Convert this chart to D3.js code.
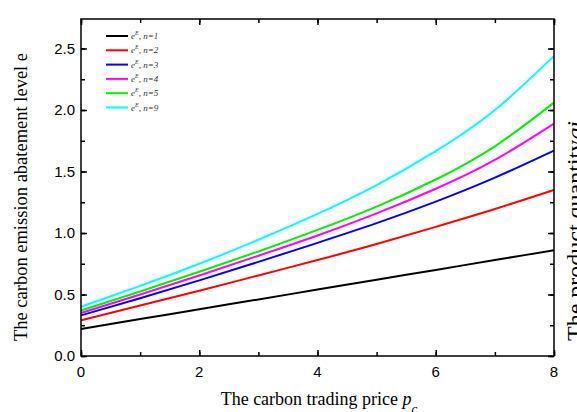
<!DOCTYPE html>
<html>
<head>
<meta charset="utf-8">
<script src="https://cdn.jsdelivr.net/npm/d3@7"></script>
<style>
body { margin: 0; padding: 0; background: #fff; }
svg { display: block; }
</style>
</head>
<body>
<script>
// data
var prices = [0, 1, 2, 3, 4, 5, 6, 7, 8];
var seriesNames = ["n=1", "n=2", "n=3", "n=4", "n=5", "n=9"];
var seriesColors = ["#000000", "#ff0000", "#0000ff", "#ff00ff", "#00ee00", "#00ffff"];
var eN1 = [0.22, 0.30, 0.38, 0.46, 0.54, 0.62, 0.70, 0.78, 0.86];
var eN2 = [0.29, 0.41, 0.53, 0.655, 0.78, 0.91, 1.05, 1.195, 1.35];
var eN3 = [0.33, 0.47, 0.615, 0.765, 0.92, 1.08, 1.255, 1.45, 1.67];
var eN4 = [0.35, 0.50, 0.655, 0.815, 0.98, 1.16, 1.36, 1.595, 1.89];
var eN5 = [0.37, 0.525, 0.685, 0.85, 1.025, 1.215, 1.435, 1.705, 2.06];
var eN9 = [0.40, 0.57, 0.75, 0.945, 1.155, 1.39, 1.665, 2.00, 2.44];
var allSeries = [eN1, eN2, eN3, eN4, eN5, eN9];
var xTicks = [0, 2, 4, 6, 8];
var yTicks = [0.0, 0.5, 1.0, 1.5, 2.0, 2.5];

var width = 577;
var height = 412;
var margin = {left: 81, right: 23, top: 19, bottom: 56};

var svg = d3.select("body")
    .append("svg")
    .attr("width", width)
    .attr("height", height);

var x = d3.scaleLinear().domain([0, 8]).range([margin.left, width - margin.right]);
var y = d3.scaleLinear().domain([0, 2.74]).range([height - margin.bottom, margin.top]);

// curves
var line = d3.line()
    .x(function(d, i) { return x(prices[i]); })
    .y(function(d) { return y(d); })
    .curve(d3.curveNatural);

svg.selectAll("path.curve")
    .data(allSeries)
    .enter()
    .append("path")
    .attr("class", "curve")
    .attr("fill", "none")
    .attr("stroke", function(d, i) { return seriesColors[i]; })
    .attr("stroke-width", 2)
    .attr("d", line);

// frame with inward ticks on all four sides
function styleAxis(g) {
    g.selectAll("path, line").attr("stroke", "#000").attr("stroke-width", 1.5);
    g.select(".domain").remove();
}
var minorX = d3.range(0, 9, 1);
var minorY = d3.range(0, 2.75, 0.25);

svg.append("g")
    .attr("transform", "translate(0," + y(0) + ")")
    .call(d3.axisTop(x).tickValues(minorX).tickSize(4).tickFormat(""))
    .call(styleAxis);
svg.append("g")
    .attr("transform", "translate(0," + y(0) + ")")
    .call(d3.axisTop(x).tickValues(xTicks).tickSize(6).tickFormat(""))
    .call(styleAxis);
svg.append("g")
    .attr("transform", "translate(0," + y(2.74) + ")")
    .call(d3.axisBottom(x).tickValues(minorX).tickSize(4).tickFormat(""))
    .call(styleAxis);
svg.append("g")
    .attr("transform", "translate(0," + y(2.74) + ")")
    .call(d3.axisBottom(x).tickValues(xTicks).tickSize(6).tickFormat(""))
    .call(styleAxis);
svg.append("g")
    .attr("transform", "translate(" + x(0) + ",0)")
    .call(d3.axisRight(y).tickValues(minorY).tickSize(4).tickFormat(""))
    .call(styleAxis);
svg.append("g")
    .attr("transform", "translate(" + x(0) + ",0)")
    .call(d3.axisRight(y).tickValues(yTicks).tickSize(6).tickFormat(""))
    .call(styleAxis);
svg.append("g")
    .attr("transform", "translate(" + x(8) + ",0)")
    .call(d3.axisLeft(y).tickValues(minorY).tickSize(4).tickFormat(""))
    .call(styleAxis);
svg.append("g")
    .attr("transform", "translate(" + x(8) + ",0)")
    .call(d3.axisLeft(y).tickValues(yTicks).tickSize(6).tickFormat(""))
    .call(styleAxis);

svg.append("rect")
    .attr("x", x(0))
    .attr("y", y(2.74))
    .attr("width", x(8) - x(0))
    .attr("height", y(0) - y(2.74))
    .attr("fill", "none")
    .attr("stroke", "#000")
    .attr("stroke-width", 1.5);

// tick labels
svg.selectAll("text.xlab")
    .data(xTicks)
    .enter()
    .append("text")
    .attr("class", "xlab")
    .attr("x", function(d) { return x(d); })
    .attr("y", y(0) + 21)
    .attr("text-anchor", "middle")
    .style("font-family", "Liberation Sans, Arial, sans-serif")
    .style("font-size", "15px")
    .text(function(d) { return d; });

svg.selectAll("text.ylab")
    .data(yTicks)
    .enter()
    .append("text")
    .attr("class", "ylab")
    .attr("x", x(0) - 6)
    .attr("y", function(d) { return y(d) + 5; })
    .attr("text-anchor", "end")
    .style("font-family", "Liberation Sans, Arial, sans-serif")
    .style("font-size", "15px")
    .text(function(d) { return d.toFixed(1); });

// axis titles
var xTitle = svg.append("text")
    .attr("x", 319)
    .attr("y", 405)
    .attr("text-anchor", "middle")
    .style("font-family", "Liberation Serif, Times New Roman, serif")
    .style("font-size", "18px");
xTitle.append("tspan").text("The carbon trading price ");
xTitle.append("tspan").style("font-style", "italic").text("p");
xTitle.append("tspan").attr("dy", 8).style("font-size", "13px").style("font-style", "italic").text("c");

svg.append("text")
    .attr("transform", "translate(27,197) rotate(-90)")
    .attr("text-anchor", "middle")
    .style("font-family", "Liberation Serif, Times New Roman, serif")
    .style("font-size", "18.5px")
    .text("The carbon emission abatement level e");

var rTitle = svg.append("text")
    .attr("transform", "translate(583,341) rotate(-90)")
    .attr("text-anchor", "start")
    .style("font-family", "Liberation Serif, Times New Roman, serif")
    .style("font-size", "24px");
rTitle.append("tspan").text("The product quantity");
rTitle.append("tspan").style("font-style", "italic").text("qi");

// legend
var legend = svg.selectAll("g.legend")
    .data(seriesNames)
    .enter()
    .append("g")
    .attr("class", "legend")
    .attr("transform", function(d, i) { return "translate(106," + (36 + i * 14.3) + ")"; });

legend.append("line")
    .attr("x1", 0)
    .attr("x2", 22)
    .attr("stroke", function(d, i) { return seriesColors[i]; })
    .attr("stroke-width", 2);

var legText = legend.append("text")
    .attr("x", 25)
    .attr("y", 3)
    .style("font-family", "Liberation Serif, Times New Roman, serif")
    .style("font-style", "italic")
    .style("font-size", "9px")
    .style("fill", "#333");
legText.append("tspan").text("e");
legText.append("tspan").attr("dy", -4).style("font-size", "6px").text("E");
legText.append("tspan").attr("dy", 4).text(function(d) { return ", " + d; });
</script>
</body>
</html>
